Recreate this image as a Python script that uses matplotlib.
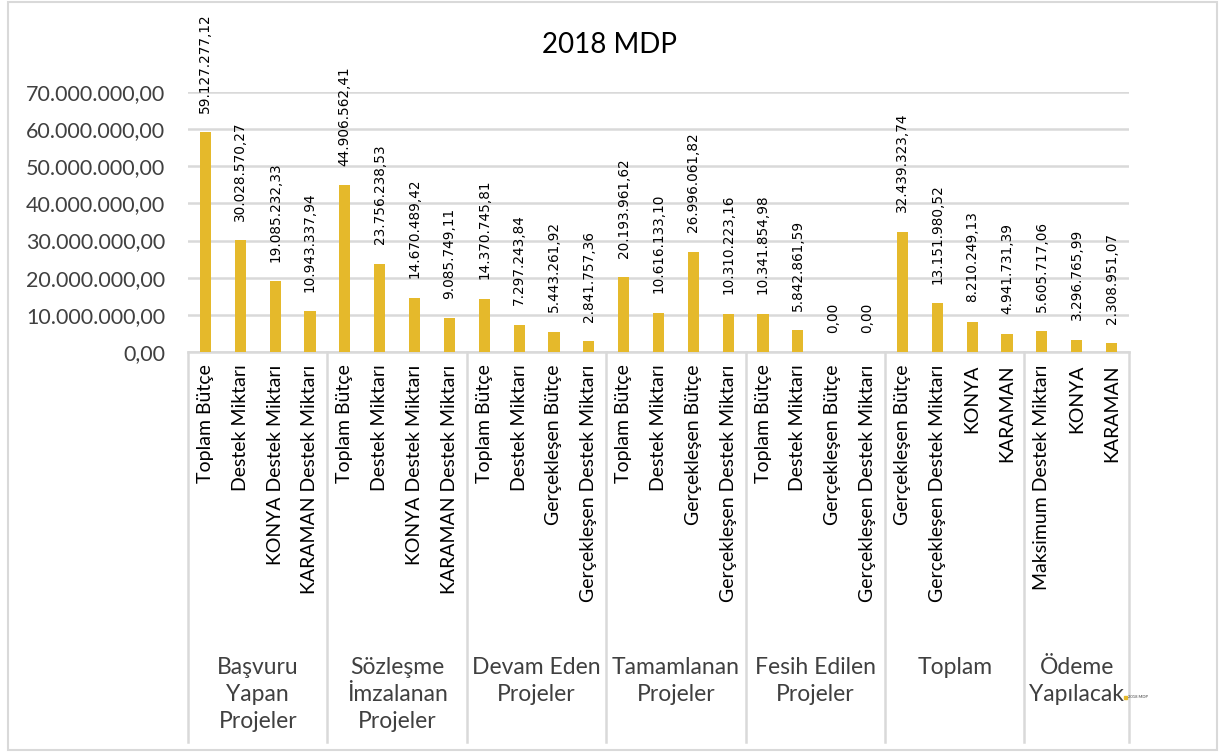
import matplotlib.pyplot as plt
from matplotlib.patches import Rectangle
import numpy as np

# data
groups = ['Başvuru\nYapan\nProjeler', 'Sözleşme\nİmzalanan\nProjeler', 'Devam Eden\nProjeler',
          'Tamamlanan\nProjeler', 'Fesih Edilen\nProjeler', 'Toplam', 'Ödeme\nYapılacak']
group_sizes = [4, 4, 4, 4, 4, 4, 3]
categories = ['Toplam Bütçe', 'Destek Miktarı', 'KONYA Destek Miktarı', 'KARAMAN Destek Miktarı',
              'Toplam Bütçe', 'Destek Miktarı', 'KONYA Destek Miktarı', 'KARAMAN Destek Miktarı',
              'Toplam Bütçe', 'Destek Miktarı', 'Gerçekleşen Bütçe', 'Gerçekleşen Destek Miktarı',
              'Toplam Bütçe', 'Destek Miktarı', 'Gerçekleşen Bütçe', 'Gerçekleşen Destek Miktarı',
              'Toplam Bütçe', 'Destek Miktarı', 'Gerçekleşen Bütçe', 'Gerçekleşen Destek Miktarı',
              'Gerçekleşen Bütçe', 'Gerçekleşen Destek Miktarı', 'KONYA', 'KARAMAN',
              'Maksimum Destek Miktarı', 'KONYA', 'KARAMAN']
values = [59127277.12, 30028570.27, 19085232.33, 10943337.94,
          44906562.41, 23756238.53, 14670489.42, 9085749.11,
          14370745.81, 7297243.84, 5443261.92, 2841757.36,
          20193961.62, 10616133.10, 26996061.82, 10310223.16,
          10341854.98, 5842861.59, 0.00, 0.00,
          32439323.74, 13151980.52, 8210249.13, 4941731.39,
          5605717.06, 3296765.99, 2308951.07]
y_ticks = np.arange(0, 70000001, 10000000)


def tr_format(v):
    # 1234567.8 -> 1.234.567,80
    s = f"{v:,.2f}"
    return s.replace(',', 'X').replace('.', ',').replace('X', '.')


bar_color = '#E5B92B'
grid_color = '#D9D9D9'
text_color = '#404040'
main_font = ['Lato', 'DejaVu Sans']

fig = plt.figure(figsize=(12.19, 7.55), dpi=100)
ax = fig.add_axes([188 / 1219, 1 - 352 / 755, (1129 - 188) / 1219, (352 - 92) / 755])

x = np.arange(len(values))
ax.bar(x, values, width=0.32, color=bar_color, zorder=3)
ax.set_xlim(-0.5, len(values) - 0.5)
ax.set_ylim(0, 70000000)

for xi, v in zip(x, values):
    ax.annotate(tr_format(v), (xi, v), xytext=(0, 14), textcoords='offset points',
                rotation=90, ha='center', va='bottom', fontsize=9.8,
                family='DejaVu Sans', color='black', annotation_clip=False)

ax.set_yticks(y_ticks)
ax.set_yticklabels([tr_format(t) for t in y_ticks], family=main_font, fontsize=15.5, color=text_color)
ax.tick_params(axis='y', length=0, pad=16.5)
ax.grid(axis='y', color=grid_color, linewidth=1.8, zorder=0)

ax.set_xticks(x)
ax.set_xticklabels(categories, rotation=90, family=main_font, fontsize=14, color='black')
ax.tick_params(axis='x', length=0, pad=9)

for side in ['top', 'right', 'left']:
    ax.spines[side].set_visible(False)
ax.spines['bottom'].set_color(grid_color)
ax.spines['bottom'].set_linewidth(1.8)

# group separators and group labels
trans = ax.get_xaxis_transform()
bounds = np.concatenate([[0], np.cumsum(group_sizes)]) - 0.5
for b in bounds:
    ax.plot([b, b], [0, -1.5], color=grid_color, linewidth=1.8, transform=trans, clip_on=False)
for i, g in enumerate(groups):
    mid = (bounds[i] + bounds[i + 1]) / 2
    ax.text(mid, -1.175, g, transform=trans, ha='center', va='top', family=main_font,
            fontsize=16.5, color=text_color, linespacing=1.35)

fig.text(0.5, 1 - 45 / 755, '2018 MDP', ha='center', va='center', family=main_font,
         fontsize=20, color='black')

# tiny legend near the bottom right
fig.patches.append(Rectangle((1124 / 1219, 1 - 699 / 755), 3 / 1219, 3 / 755,
                             transform=fig.transFigure, color=bar_color))
fig.text(1128 / 1219, 1 - 697.5 / 755, '2018 MDP', fontsize=3, va='center', ha='left',
         family=main_font, color=text_color)

# outer chart border
fig.patches.append(Rectangle((8 / 1219, 5 / 755), 1209 / 1219, 748 / 755, transform=fig.transFigure,
                             fill=False, edgecolor=grid_color, linewidth=1.5))

fig.savefig('out.png', dpi=100)
